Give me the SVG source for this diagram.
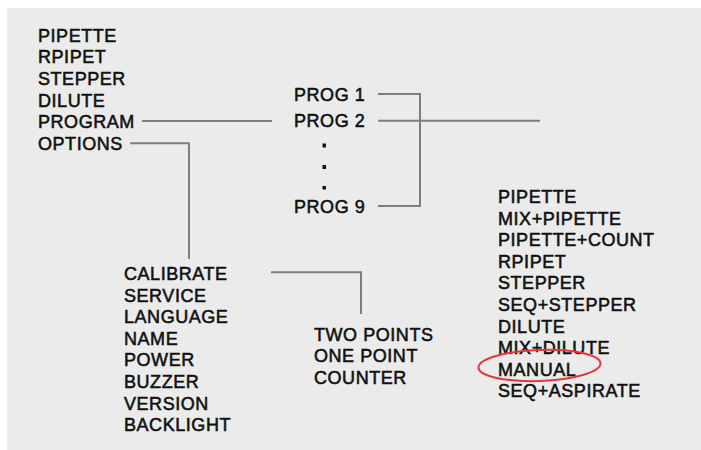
<svg xmlns="http://www.w3.org/2000/svg" width="701" height="450" viewBox="0 0 701 450">
<style>
text{font-family:"Liberation Sans",Arial,sans-serif;font-size:18px;font-weight:normal;fill:#111;stroke:#111;stroke-width:0.55px;letter-spacing:0.55px}
.c{fill:none;stroke:#7d7d7d;stroke-width:2}
.dot{fill:#141414}
</style>
<rect x="0" y="0" width="701" height="450" fill="#ffffff"/>
<rect x="7" y="8" width="694" height="442" fill="#ebebeb"/>
<g id="connectors">
<path class="c" d="M142 121H272"/>
<path class="c" d="M130 143.3H189V259"/>
<path class="c" d="M378 94H420V206H378"/>
<path class="c" d="M378 120.7H540"/>
<path class="c" d="M271 272.3H361V314"/>
</g>
<g id="main-menu">
<text x="38" y="41.5">PIPETTE</text>
<text x="38" y="63.2">RPIPET</text>
<text x="38" y="84.9">STEPPER</text>
<text x="38" y="106.6">DILUTE</text>
<text x="38" y="128.3">PROGRAM</text>
<text x="38" y="150">OPTIONS</text>
</g>
<g id="programs">
<text x="294" y="100.5">PROG 1</text>
<text x="294" y="127">PROG 2</text>
<rect class="dot" x="322.5" y="143.5" width="3.5" height="4"/>
<rect class="dot" x="322.5" y="165" width="3.5" height="4"/>
<rect class="dot" x="322.5" y="186" width="3.5" height="3.5"/>
<text x="294" y="212.5">PROG 9</text>
</g>
<g id="options">
<text x="124" y="280">CALIBRATE</text>
<text x="124" y="301.6">SERVICE</text>
<text x="124" y="323.2">LANGUAGE</text>
<text x="124" y="344.8">NAME</text>
<text x="124" y="366.4">POWER</text>
<text x="124" y="388">BUZZER</text>
<text x="124" y="409.6">VERSION</text>
<text x="124" y="431.2">BACKLIGHT</text>
</g>
<g id="calibrate">
<text x="314" y="340.7">TWO POINTS</text>
<text x="314" y="362.3">ONE POINT</text>
<text x="314" y="384">COUNTER</text>
</g>
<g id="modes">
<text x="498" y="203">PIPETTE</text>
<text x="498" y="224.6">MIX+PIPETTE</text>
<text x="498" y="246.2">PIPETTE+COUNT</text>
<text x="498" y="267.8">RPIPET</text>
<text x="498" y="289.4">STEPPER</text>
<text x="498" y="311">SEQ+STEPPER</text>
<text x="498" y="332.6">DILUTE</text>
<text x="498" y="354.2">MIX+DILUTE</text>
<text x="498" y="375.8">MANUAL</text>
<text x="498" y="397.4">SEQ+ASPIRATE</text>
</g>
<g id="highlight">
<ellipse cx="539.5" cy="365.5" rx="61" ry="15.5" transform="rotate(-2 539.5 365.5)" fill="none" stroke="#e0393b" stroke-width="2"/>
</g>
</svg>
